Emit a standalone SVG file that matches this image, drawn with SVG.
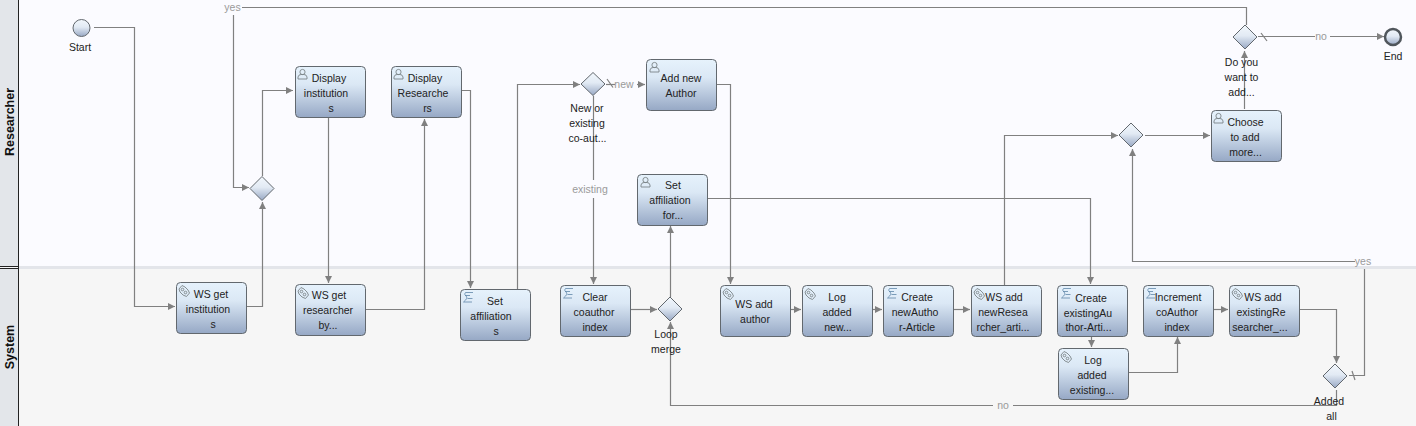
<svg xmlns="http://www.w3.org/2000/svg" width="1416" height="426" viewBox="0 0 1416 426">
<style>
text{font-family:"Liberation Sans",Arial,sans-serif;font-size:10.5px;fill:#222;text-anchor:middle}
.lane{font-weight:bold;font-size:12.5px;fill:#111}
.el{fill:#9a9a9a}
.task{fill:url(#g);stroke:#62686e;stroke-width:1}
.dia{fill:url(#gd);stroke:#62686e;stroke-width:1}
.ev{fill:url(#gd);stroke:#62686e;stroke-width:1}
.end{fill:url(#gd);stroke:#50565c;stroke-width:2.5}
#conn path{fill:none;stroke:#808080;stroke-width:1.2}
.a{marker-end:url(#arr)}
.ico{fill:none;stroke:#7c8488;stroke-width:.9}
.ico2{fill:none;stroke:#5f87a8;stroke-width:.8}
</style>
<defs>
<linearGradient id="g" x1="0" y1="0" x2="0" y2="1"><stop offset="0" stop-color="#e6f2fc"/><stop offset=".35" stop-color="#dbe8f5"/><stop offset="1" stop-color="#96a8c5"/></linearGradient>
<linearGradient id="gd" x1="0" y1="0" x2="0" y2="1"><stop offset="0" stop-color="#f2f7fc"/><stop offset=".45" stop-color="#e2eaf4"/><stop offset="1" stop-color="#98a8c4"/></linearGradient>
<marker id="arr" markerUnits="userSpaceOnUse" markerWidth="9" markerHeight="9" refX="8" refY="4" orient="auto"><path d="M1 0.5L8 4L1 7.5Z" fill="#808080"/></marker>
<g id="user"><circle cx="0" cy="-2.500" r="2.600" class="ico"/><path d="M-4.500 4.500V2.500Q-4 0 -1.500 0H1.500Q4 0 4.500 2.500V4.500Z" class="ico"/></g>
<g id="gear"><path class="ico" d="M-5-2L-2-5.500L1-4L4-1L5.500 2L2.500 5.500L-1 4L-4 1Z"/><circle cx="-1.500" cy="-1.500" r="1.300" class="ico"/><circle cx="1.500" cy="1.500" r="1.300" class="ico"/></g>
<g id="script"><path d="M-2.500-5H5M-3-2H2M-.5 1H4.500M-4.500 4.500H4M-2.500-5Q-4.500-3.500 -2-1.500Q.5 .5 -4.500 4.500" class="ico2"/></g>
</defs>

<rect x="0" y="0" width="1416" height="267" fill="#fbfbff"/>
<rect x="0" y="267" width="1416" height="159" fill="#f6f6f6"/>
<rect x="19" y="266" width="1397" height="3" fill="#e3e5ea"/>
<rect x="0" y="0" width="18" height="266" fill="#e3e6ea"/>
<rect x="0" y="269" width="18" height="157" fill="#e3e6ea"/>
<path d="M18.500 0V426M0 266.500H19M0 268.500H19" stroke="#222" stroke-width="1" fill="none"/>
<text class="lane" transform="translate(14,122) rotate(-90)">Researcher</text>
<text class="lane" transform="translate(14,347) rotate(-90)">System</text>

<g id="conn">
<path class="a" d="M94 27.500H134.500V306.500H175"/>
<path class="a" d="M246 306.500H262.500V202"/>
<path class="a" d="M262.500 176V90.500H293"/>
<path d="M1246.500 25V7.500H242"/>
<path class="a" d="M233.500 15V187.500H249"/>
<path class="a" d="M328.500 117V283"/>
<path class="a" d="M365 309.500H424.500V119"/>
<path class="a" d="M461 90.500H470.500V288"/>
<path class="a" d="M517.500 289V84.500H580"/>
<path d="M606 84.500H615"/>
<path d="M607 79L613 87.500"/>
<path class="a" d="M637 84.500H645"/>
<path d="M593.500 96V180"/>
<path class="a" d="M593.500 198V284"/>
<path class="a" d="M630 309.500H657"/>
<path class="a" d="M670.500 297V226"/>
<path class="a" d="M707 198.500H1090.500V284"/>
<path class="a" d="M716 84.500H730.500V284"/>
<path class="a" d="M790 309.500H801"/>
<path class="a" d="M872 309.500H882"/>
<path class="a" d="M953 309.500H970"/>
<path class="a" d="M1004.500 285V135.500H1118"/>
<path class="a" d="M1145 135.500H1210"/>
<path class="a" d="M1244.500 109V51"/>
<path d="M1258 36.500H1315"/>
<path d="M1261 33L1267 41"/>
<path class="a" d="M1330 36.500H1384"/>
<path class="a" d="M1091.500 336V347"/>
<path class="a" d="M1128 372.500H1177.500V337"/>
<path class="a" d="M1213 309.500H1228"/>
<path class="a" d="M1299 309.500H1336.500V363"/>
<path d="M1349 375.500H1364.500V269"/>
<path d="M1352 371L1355 380"/>
<path class="a" d="M1355 261.500H1132.500V149"/>
<path class="a" d="M1336.500 390V405.500H1013M993 405.500H670.500V322"/>
</g>
<g id="conn-labels">
<text class="el" x="232.500" y="11">yes</text>
<text class="el" x="624" y="88">new</text>
<text class="el" x="590" y="193">existing</text>
<text class="el" x="1321" y="40">no</text>
<text class="el" x="1363" y="265">yes</text>
<text class="el" x="1003" y="409">no</text>
</g>

<g id="start"><circle class="ev" cx="81.500" cy="28" r="8.500"/><text x="80" y="51">Start</text></g>
<g id="end"><circle class="end" cx="1393" cy="37" r="8"/><text x="1393" y="59.500">End</text></g>

<g id="gw1"><path class="dia" d="M262 176.500L274 188.500L262 200.500L250 188.500Z"/></g>
<g id="gw-new"><path class="dia" d="M593 72.500L605 84L593 95.500L581 84Z"/><text x="587" y="112">New or</text><text x="587" y="127">existing</text><text x="587.500" y="142">co-aut...</text></g>
<g id="gw-loop"><path class="dia" d="M670 297L682 309L670 321L658 309Z"/><text x="666" y="338">Loop</text><text x="666" y="353">merge</text></g>
<g id="gw3"><path class="dia" d="M1131 123L1143 135L1131 147L1119 135Z"/></g>
<g id="gw-more"><path class="dia" d="M1245 25L1257 37L1245 49L1233 37Z"/><text x="1241.500" y="66">Do you</text><text x="1241.500" y="81">want to</text><text x="1241.500" y="96">add...</text></g>
<g id="gw-all"><path class="dia" d="M1335 364L1347 376L1335 388L1323 376Z"/><text x="1329" y="405">Added</text><text x="1331.500" y="420">all</text></g>

<g id="display-institutions"><rect class="task" x="295.500" y="66.500" width="70" height="51" rx="4"/><use href="#user" x="302.500" y="74.500"/><text x="329" y="81.500">Display</text><text x="326" y="96.500">institution</text><text x="331" y="111.500">s</text></g>
<g id="display-researchers"><rect class="task" x="391.500" y="66.500" width="70" height="51" rx="4"/><use href="#user" x="398.500" y="74.500"/><text x="425" y="81.500">Display</text><text x="423" y="96.500">Researche</text><text x="427.500" y="111.500">rs</text></g>
<g id="ws-get-institutions"><rect class="task" x="176.500" y="282.500" width="70" height="51" rx="4"/><use href="#gear" x="184" y="291"/><text x="211" y="298">WS get</text><text x="208" y="313">institution</text><text x="213" y="328">s</text></g>
<g id="ws-get-researcher"><rect class="task" x="295.500" y="284.500" width="70" height="51" rx="4"/><use href="#gear" x="303" y="293"/><text x="329" y="299">WS get</text><text x="328" y="314">researcher</text><text x="328" y="329">by...</text></g>
<g id="set-affiliations"><rect class="task" x="460.500" y="289.500" width="70" height="51" rx="4"/><use href="#script" x="468" y="297.500"/><text x="495" y="304.500">Set</text><text x="491" y="319.500">affiliation</text><text x="496" y="334.500">s</text></g>
<g id="clear-index"><rect class="task" x="560.500" y="285.500" width="70" height="51" rx="4"/><use href="#script" x="568" y="293.500"/><text x="595" y="300.500">Clear</text><text x="594" y="315.500">coauthor</text><text x="595" y="330.500">index</text></g>
<g id="add-new-author"><rect class="task" x="646.500" y="59.500" width="70" height="51" rx="4"/><use href="#user" x="654.500" y="67.500"/><text x="681" y="82">Add new</text><text x="681" y="97">Author</text></g>
<g id="set-affiliation-for"><rect class="task" x="637.500" y="174.500" width="70" height="51" rx="4"/><use href="#user" x="645.500" y="182.500"/><text x="673" y="189">Set</text><text x="670" y="204">affiliation</text><text x="673" y="219">for...</text></g>
<g id="ws-add-author"><rect class="task" x="720.500" y="285.500" width="70" height="51" rx="4"/><use href="#gear" x="728" y="294"/><text x="754" y="307.500">WS add</text><text x="755" y="322.500">author</text></g>
<g id="log-added-new"><rect class="task" x="802.500" y="285.500" width="70" height="51" rx="4"/><use href="#gear" x="810" y="294"/><text x="837" y="300.500">Log</text><text x="837" y="315.500">added</text><text x="838" y="330.500">new...</text></g>
<g id="create-new-author"><rect class="task" x="883.500" y="285.500" width="70" height="51" rx="4"/><use href="#script" x="892" y="293.500"/><text x="917" y="300.500">Create</text><text x="915" y="315.500">newAutho</text><text x="917" y="330.500">r-Article</text></g>
<g id="ws-add-new-researcher"><rect class="task" x="971.500" y="285.500" width="70" height="51" rx="4"/><use href="#gear" x="979" y="294"/><text x="1004" y="300.500">WS add</text><text x="1003" y="315.500">newResea</text><text x="1003" y="330.500">rcher_arti...</text></g>
<g id="create-existing"><rect class="task" x="1057.500" y="285.500" width="70" height="51" rx="4"/><use href="#script" x="1066" y="293.500"/><text x="1091" y="301.500">Create</text><text x="1088" y="316.500">existingAu</text><text x="1088.500" y="331">thor-Arti...</text></g>
<g id="log-added-existing"><rect class="task" x="1058.500" y="348.500" width="70" height="51" rx="4"/><use href="#gear" x="1066" y="357"/><text x="1093" y="364">Log</text><text x="1092" y="379">added</text><text x="1092" y="394">existing...</text></g>
<g id="increment"><rect class="task" x="1143.500" y="285.500" width="70" height="51" rx="4"/><use href="#script" x="1151" y="293.500"/><text x="1178" y="301">Increment</text><text x="1177" y="316">coAuthor</text><text x="1177" y="331">index</text></g>
<g id="ws-add-existing"><rect class="task" x="1229.500" y="285.500" width="70" height="51" rx="4"/><use href="#gear" x="1237" y="294"/><text x="1263" y="301">WS add</text><text x="1261" y="316">existingRe</text><text x="1260" y="331">searcher_...</text></g>
<g id="choose"><rect class="task" x="1211.500" y="110.500" width="70" height="51" rx="4"/><use href="#user" x="1218.500" y="118.500"/><text x="1245.500" y="125.500">Choose</text><text x="1245" y="140.500">to add</text><text x="1245.500" y="155.500">more...</text></g>
</svg>
